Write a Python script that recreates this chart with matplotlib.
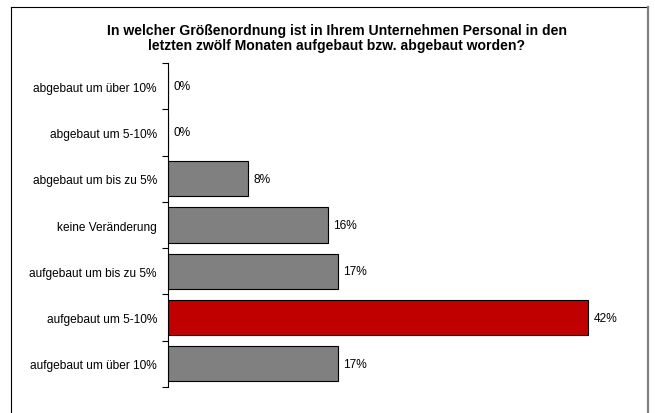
import matplotlib.pyplot as plt
import numpy as np
from matplotlib.lines import Line2D

plt.rcParams["font.family"] = ["Liberation Sans", "DejaVu Sans"]

categories = [
    "abgebaut um über 10%",
    "abgebaut um 5-10%",
    "abgebaut um bis zu 5%",
    "keine Veränderung",
    "aufgebaut um bis zu 5%",
    "aufgebaut um 5-10%",
    "aufgebaut um über 10%",
]
values = [0, 0, 8, 16, 17, 42, 17]
highlight = "aufgebaut um 5-10%"

title = ("In welcher Größenordnung ist in Ihrem Unternehmen Personal in den\n"
         "letzten zwölf Monaten aufgebaut bzw. abgebaut worden?")

fig = plt.figure(figsize=(6.55, 4.14), dpi=100)
fig.patch.set_facecolor("white")

# outer frame (open at the bottom)
fig.add_artist(Line2D([0.0168, 0.0168], [0.0, 0.981], color="black", lw=0.8, transform=fig.transFigure))
fig.add_artist(Line2D([0.0168, 0.989], [0.981, 0.981], color="black", lw=0.8, transform=fig.transFigure))
fig.add_artist(Line2D([0.989, 0.989], [0.0, 0.981], color="#808080", lw=1.6, transform=fig.transFigure))

fig.text(0.514, 0.906, title, ha="center", va="center", fontsize=10.1,
         fontweight="bold", linespacing=1.1)

ax = fig.add_axes([0.2565, 0.0628, 0.687, 0.7826])
y = np.arange(len(categories))
colors = ["#C00000" if c == highlight else "#808080" for c in categories]
ax.barh(y, values, height=0.76, color=colors, edgecolor="black", linewidth=0.8)

for yi, v in zip(y, values):
    ax.text(v + 0.55, yi, f"{v}%", va="center", ha="left", fontsize=8.6)

ax.set_ylim(len(categories) - 0.5, -0.5)
ax.set_xlim(0, 45)
ax.set_yticks(y)
ax.set_yticklabels(categories, fontsize=8.6)
ax.tick_params(axis="y", which="major", length=0, pad=8)
ax.set_yticks(np.arange(len(categories) + 1) - 0.5, minor=True)
ax.tick_params(axis="y", which="minor", length=4, width=0.8, direction="out")
ax.set_xticks([])
for s in ["top", "right", "bottom"]:
    ax.spines[s].set_visible(False)
ax.spines["left"].set_linewidth(0.8)

fig.savefig("out.png", dpi=100)
